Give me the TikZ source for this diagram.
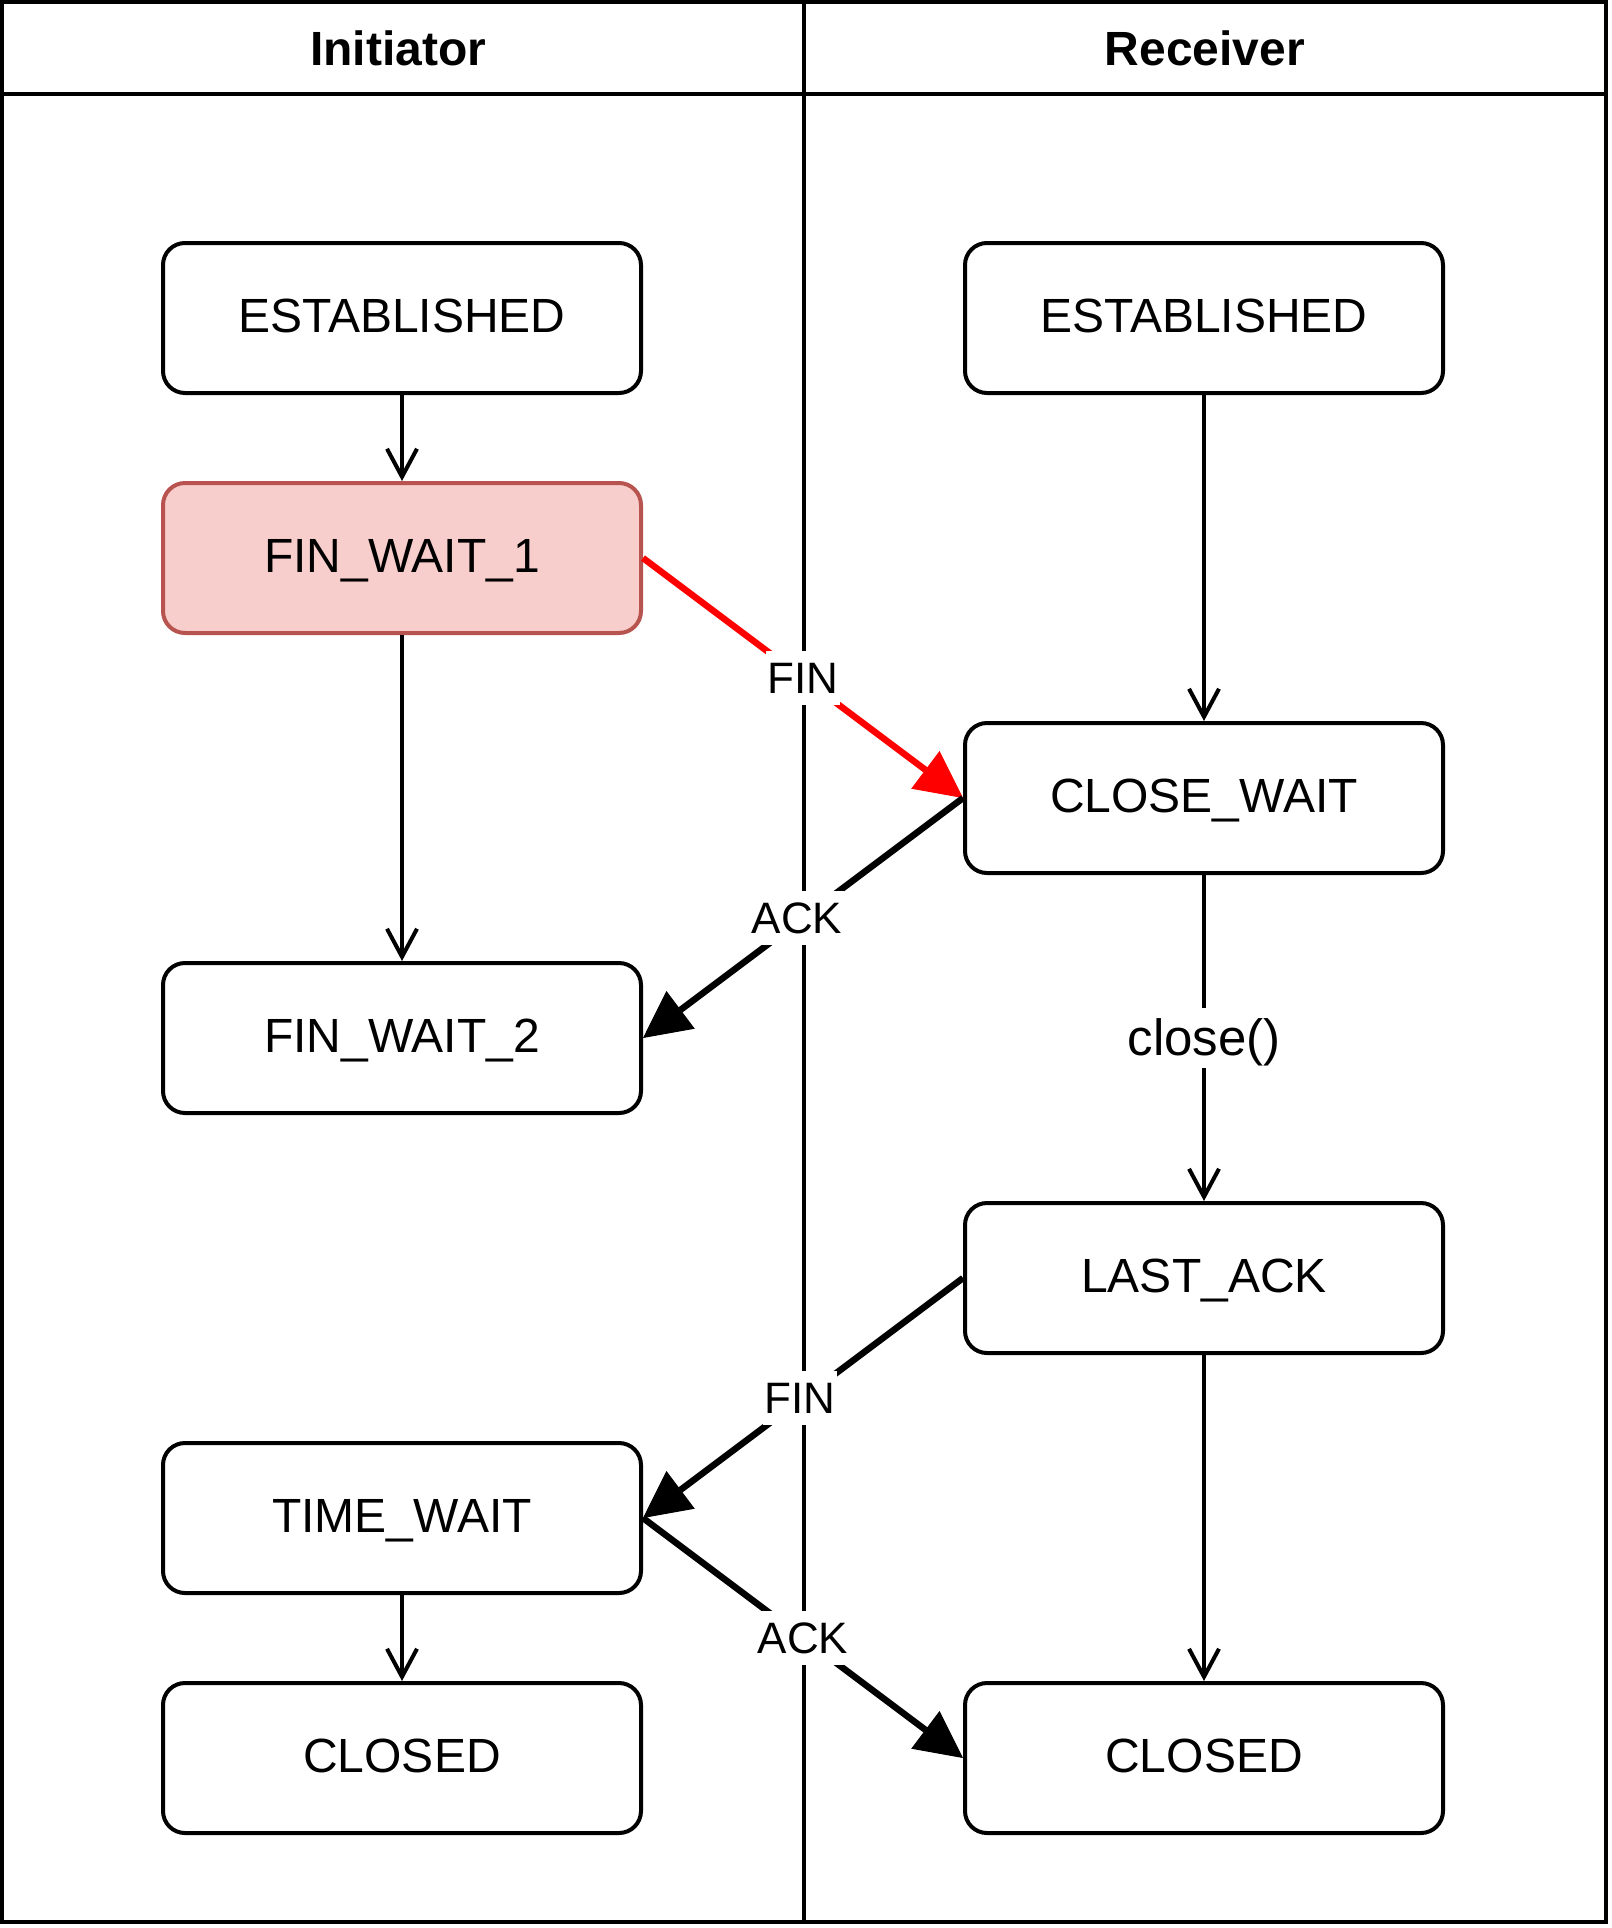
\documentclass[tikz,border=0pt]{standalone}
\usepackage{fontspec}
\setmainfont{Liberation Sans}
\usetikzlibrary{arrows.meta}
\definecolor{finfill}{HTML}{F8CECC}
\definecolor{finborder}{HTML}{B85450}
\begin{document}
\begin{tikzpicture}[x=1pt,y=-1pt,
  state/.style={draw=black, line width=4pt, fill=white, rounded corners=22pt,
    minimum width=478pt, minimum height=150pt, inner sep=0pt,
    text height=35pt, text depth=6pt, font=\fontsize{48}{57}\selectfont},
  hdr/.style={inner sep=0pt, text height=34pt, text depth=0pt,
    font=\fontsize{48}{57}\selectfont\bfseries},
  laneline/.style={line width=4pt},
  flowarrow/.style={line width=4pt, -{Straight Barb[length=28pt,width=30pt]}},
  msgarrow/.style={line width=6.5pt, -{Triangle[length=47pt,width=47pt,line width=1pt]}},
  elabel/.style={fill=white, inner xsep=2pt, inner ysep=2.5pt,
    text height=40pt, text depth=9pt, font=\fontsize{44}{53}\selectfont},
  clabel/.style={fill=white, inner xsep=2pt, inner ysep=2.5pt,
    text height=45pt, text depth=10pt, font=\fontsize{51}{61}\selectfont}
]
\useasboundingbox (0,0) rectangle (1612,1928);

% pool and lanes
\draw[laneline] (2,2) rectangle (1606,1922);
\draw[laneline] (2,94) -- (1606,94);
\draw[laneline] (804,2) -- (804,1922);
\node[hdr] (hi) at (398,48) {Initiator};
\node[hdr] (hr) at (1205,48) {Receiver};

% states
\node[state] (iest) at (402,318) {ESTABLISHED};
\node[state, fill=finfill, draw=finborder] (fw1) at (402,558) {FIN\_WAIT\_1\hspace{8pt}};
\node[state] (fw2) at (402,1038) {FIN\_WAIT\_2\hspace{6pt}};
\node[state] (tw) at (402,1518) {TIME\_WAIT\hspace{6pt}};
\node[state] (iclosed) at (402,1758) {CLOSED};
\node[state] (rest) at (1204,318) {ESTABLISHED};
\node[state] (cw) at (1204,798) {CLOSE\_WAIT\hspace{8pt}};
\node[state] (la) at (1204,1278) {LAST\_ACK\hspace{4pt}};
\node[state] (rclosed) at (1204,1758) {CLOSED};

% transitions
\draw[flowarrow] (iest) -- (fw1);
\draw[flowarrow] (fw1) -- (fw2);
\draw[flowarrow] (tw) -- (iclosed);
\draw[flowarrow] (rest) -- (cw);
\draw[flowarrow] (cw) -- node[clabel] {close()} (la);
\draw[flowarrow] (la) -- (rclosed);

% messages
\draw[msgarrow, red] (fw1.east) -- node[elabel, text=black] {FIN} (cw.west);
\draw[msgarrow] (cw.west) -- node[elabel, xshift=-6pt] {ACK} (fw2.east);
\draw[msgarrow] (la.west) -- node[elabel, xshift=-3pt] {FIN} (tw.east);
\draw[msgarrow] (tw.east) -- node[elabel] {ACK} (rclosed.west);
\end{tikzpicture}
\end{document}
